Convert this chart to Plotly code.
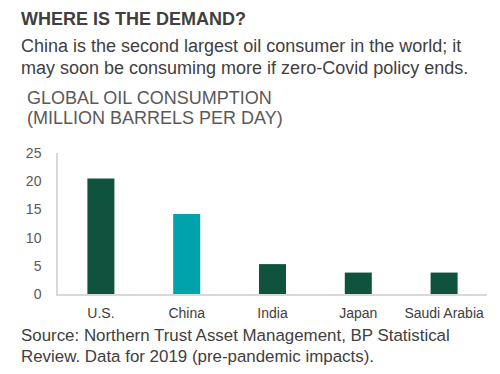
import plotly.graph_objects as go

countries = ["U.S.", "China", "India", "Japan", "Saudi Arabia"]
consumption = [20.5, 14.2, 5.3, 3.8, 3.8]
y_ticks = [0, 5, 10, 15, 20, 25]

title_text = "<b>WHERE IS THE DEMAND?</b>"
subtitle_lines = ["China is the second largest oil consumer in the world; it",
                  "may soon be consuming more if zero-Covid policy ends."]
axis_title_lines = ["GLOBAL OIL CONSUMPTION", "(MILLION BARRELS PER DAY)"]
source_lines = ["Source: Northern Trust Asset Management, BP Statistical",
                "Review. Data for 2019 (pre-pandemic impacts)."]

DARK = "#0F533F"
TEAL = "#00A2AB"
colors = [TEAL if c == "China" else DARK for c in countries]

W, H = 500, 374
L, R, T, B = 58, 13, 153, 80
ph = H - T - B
pw = W - L - R

def px(x):
    return (x - L) / pw

def py(y):
    return (H - B - y) / ph

FONT = "Liberation Sans, Arial, sans-serif"
TXT = "#404040"

fig = go.Figure(go.Bar(
    x=countries, y=consumption, marker=dict(color=colors, line=dict(width=0)),
    width=0.315,
))

annotations = []

def add_line(text, x, y, size, color):
    annotations.append(dict(
        text=text, xref="paper", yref="paper", x=px(x), y=py(y),
        xanchor="left", yanchor="middle", align="left", showarrow=False,
        borderpad=0, font=dict(size=size, color=color, family=FONT)))

add_line(title_text, 20, 19, 18, "#404040")
for t, yy in zip(subtitle_lines, [46, 68]):
    add_line(t, 20, yy, 18, "#404040")
for t, yy in zip(axis_title_lines, [98, 118]):
    add_line(t, 26, yy, 18, "#595959")
for t, yy in zip(source_lines, [335, 356]):
    add_line(t, 20, yy, 16.9, "#404040")

fig.update_layout(
    width=W, height=H, margin=dict(l=L, r=R, t=T, b=B),
    plot_bgcolor="white", paper_bgcolor="white",
    showlegend=False,
    font=dict(family=FONT, color=TXT),
    xaxis=dict(showline=True, linecolor="#D9D9D9", linewidth=1.5, showgrid=False,
               ticks="", tickfont=dict(size=14, color="#404040"), ticklabelstandoff=5,
               fixedrange=True),
    yaxis=dict(range=[0, 25], tickvals=y_ticks, showline=True, linecolor="#D9D9D9",
               linewidth=1.5, showgrid=False, zeroline=False, ticks="",
               tickfont=dict(size=14, color="#595959"), ticklabelstandoff=12,
               fixedrange=True),
    annotations=annotations,
)

fig.write_html("out.html", config={"displayModeBar": False},
               post_script="document.body.style.margin='0';document.body.style.overflow='hidden';")
